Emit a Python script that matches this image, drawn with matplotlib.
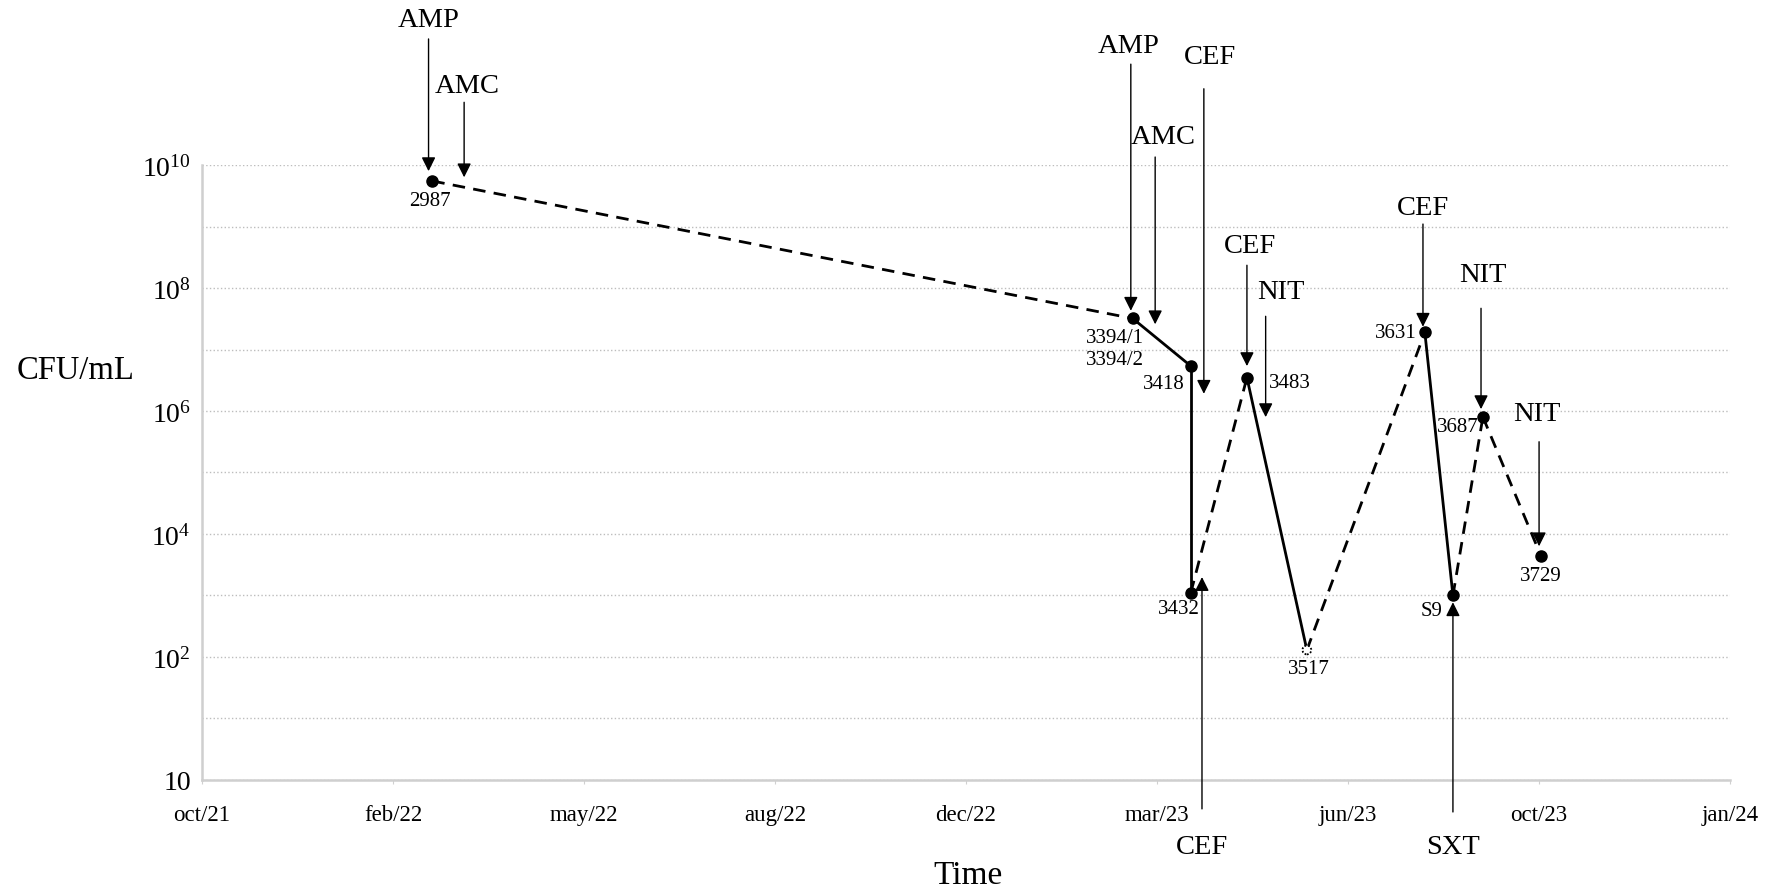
import numpy as np
import pandas as pd
import matplotlib
matplotlib.use("Agg")
import matplotlib.pyplot as plt
import matplotlib.dates as mdates
import matplotlib.ticker as mticker

plt.rcParams['font.family'] = ['Liberation Serif', 'DejaVu Serif']
plt.rcParams['mathtext.fontset'] = 'custom'
plt.rcParams['mathtext.rm'] = 'Liberation Serif'

# isolates: sample id, date, CFU/mL
samples = ['2987', '3394/1\n3394/2', '3418', '3432', '3483', '3517', '3631', 'S9', '3687', '3729']
dates = ['2022-02-24', '2023-03-05', '2023-04-05', '2023-04-05', '2023-05-05',
         '2023-06-06', '2023-08-08', '2023-08-23', '2023-09-08', '2023-10-09']
cfu = [5.5e9, 3.2e7, 5.4e6, 1.1e3, 3.5e6, 1.3e2, 1.9e7, 1.0e3, 8.0e5, 4.4e3]
# link between consecutive samples
links = ['dashed', 'solid', 'solid', 'dashed', 'solid', 'dashed', 'solid', 'dashed', 'dashed']
open_marker = ['3517']

# antibiotic treatments
drugs = ['AMP', 'AMC', 'AMP', 'AMC', 'CEF', 'CEF', 'NIT', 'CEF', 'NIT', 'NIT', 'CEF', 'SXT']
drug_dates = ['2022-02-22', '2022-03-13', '2023-03-04', '2023-03-17', '2023-04-12', '2023-05-05',
              '2023-05-15', '2023-08-07', '2023-09-07', '2023-10-08', '2023-04-11', '2023-08-23']

# arrow layout (log10 of tail / tip) and label offsets in pixels
arrow_tail = [12.05, 11.02, 11.64, 10.13, 11.24, 8.37, 7.54, 9.04, 7.67, 5.50, -0.47, -0.52]
arrow_tip = [9.90, 9.80, 7.63, 7.41, 6.28, 6.73, 5.90, 7.37, 6.03, 3.80, 3.30, 2.89]
drug_lab_off = [(0, 19), (3, 17), (-2, 19), (8, 21), (6, 32), (3, 20), (15, 25), (0, 17),
                (2, 34), (-2, 28), (0, -38), (0, -35)]
sample_lab = [('center', -2, -20), ('right', 11, -30), ('right', -6, -18), ('right', 9, -16),
              ('left', 22, -5), ('center', 2, -19), ('right', -8, 0), ('right', -10, -15),
              ('right', -4, -10), ('center', 0, -20)]

fig = plt.figure(figsize=(17.73, 8.95), dpi=100)
ax = fig.add_axes([0.1139, 0.1274, 0.8619, 0.6871])

x = mdates.date2num(pd.to_datetime(dates))
for i in range(len(x) - 1):
    ls = '-' if links[i] == 'solid' else (0, (4.5, 3))
    ax.plot(x[i:i + 2], cfu[i:i + 2], color='black', lw=2, linestyle=ls, zorder=3)

for xi, yi, s in zip(x, cfu, samples):
    if s in open_marker:
        ax.scatter([xi], [yi], s=40, facecolors='white', edgecolors='black',
                   linewidths=1.3, linestyle=(0, (1, 1)), zorder=4)
    else:
        ax.plot([xi], [yi], 'o', color='black', ms=8, zorder=4)

for (xi, yi, s, (ha, dx, dy)) in zip(x, cfu, samples, sample_lab):
    ax.annotate(s, xy=(xi, yi), xytext=(dx, dy), textcoords='offset pixels',
                ha=ha, va='center', fontsize=15, multialignment='right',
                linespacing=1.2, zorder=5)

xd = mdates.date2num(pd.to_datetime(drug_dates))
for d, xx, t0, t1, (dx, dy) in zip(drugs, xd, arrow_tail, arrow_tip, drug_lab_off):
    ax.annotate('', xy=(xx, 10 ** t1), xytext=(xx, 10 ** t0),
                arrowprops=dict(arrowstyle='-|>', color='black', lw=1,
                                mutation_scale=21, shrinkA=0, shrinkB=0),
                annotation_clip=False, zorder=6)
    ax.annotate(d, xy=(xx, 10 ** t0), xytext=(dx, dy), textcoords='offset pixels',
                ha='center', va='center', fontsize=20.5, annotation_clip=False)

# axes
ax.set_yscale('log')
ax.set_ylim(1, 1e10)
major = [1, 1e2, 1e4, 1e6, 1e8, 1e10]
ax.yaxis.set_major_locator(mticker.FixedLocator(major))
ax.yaxis.set_minor_locator(mticker.FixedLocator([1e1, 1e3, 1e5, 1e7, 1e9]))
ax.yaxis.set_major_formatter(mticker.FixedFormatter(
    ['10', r'$\mathregular{10^{2}}$', r'$\mathregular{10^{4}}$', r'$\mathregular{10^{6}}$',
     r'$\mathregular{10^{8}}$', r'$\mathregular{10^{10}}$']))
ax.yaxis.set_minor_formatter(mticker.NullFormatter())
ax.grid(axis='y', which='both', linestyle=':', color='#bdbdbd', lw=1)

start = mdates.date2num(pd.Timestamp('2021-10-24'))
ticks = start + 102 * np.arange(9)
ax.set_xlim(ticks[0], ticks[-1])
ax.xaxis.set_major_locator(mticker.FixedLocator(ticks))
ax.xaxis.set_major_formatter(mticker.FuncFormatter(
    lambda v, p: mdates.num2date(v).strftime('%b/%y').lower()))

ax.tick_params(axis='y', which='both', length=0, pad=8, labelsize=20)
ax.tick_params(axis='x', length=3, color='#d0d0d0', pad=14, labelsize=16.5)
for sp in ['top', 'right']:
    ax.spines[sp].set_visible(False)
for sp in ['left', 'bottom']:
    ax.spines[sp].set_color('#cfcfcf')
    ax.spines[sp].set_linewidth(1.8)

fig.text(17 / 1773, 1 - 371 / 895, 'CFU/mL', ha='left', va='center', fontsize=23.5)
fig.text(968 / 1773, 1 - 876 / 895, 'Time', ha='center', va='center', fontsize=24)

fig.savefig('out.png', dpi=100, facecolor='white')
